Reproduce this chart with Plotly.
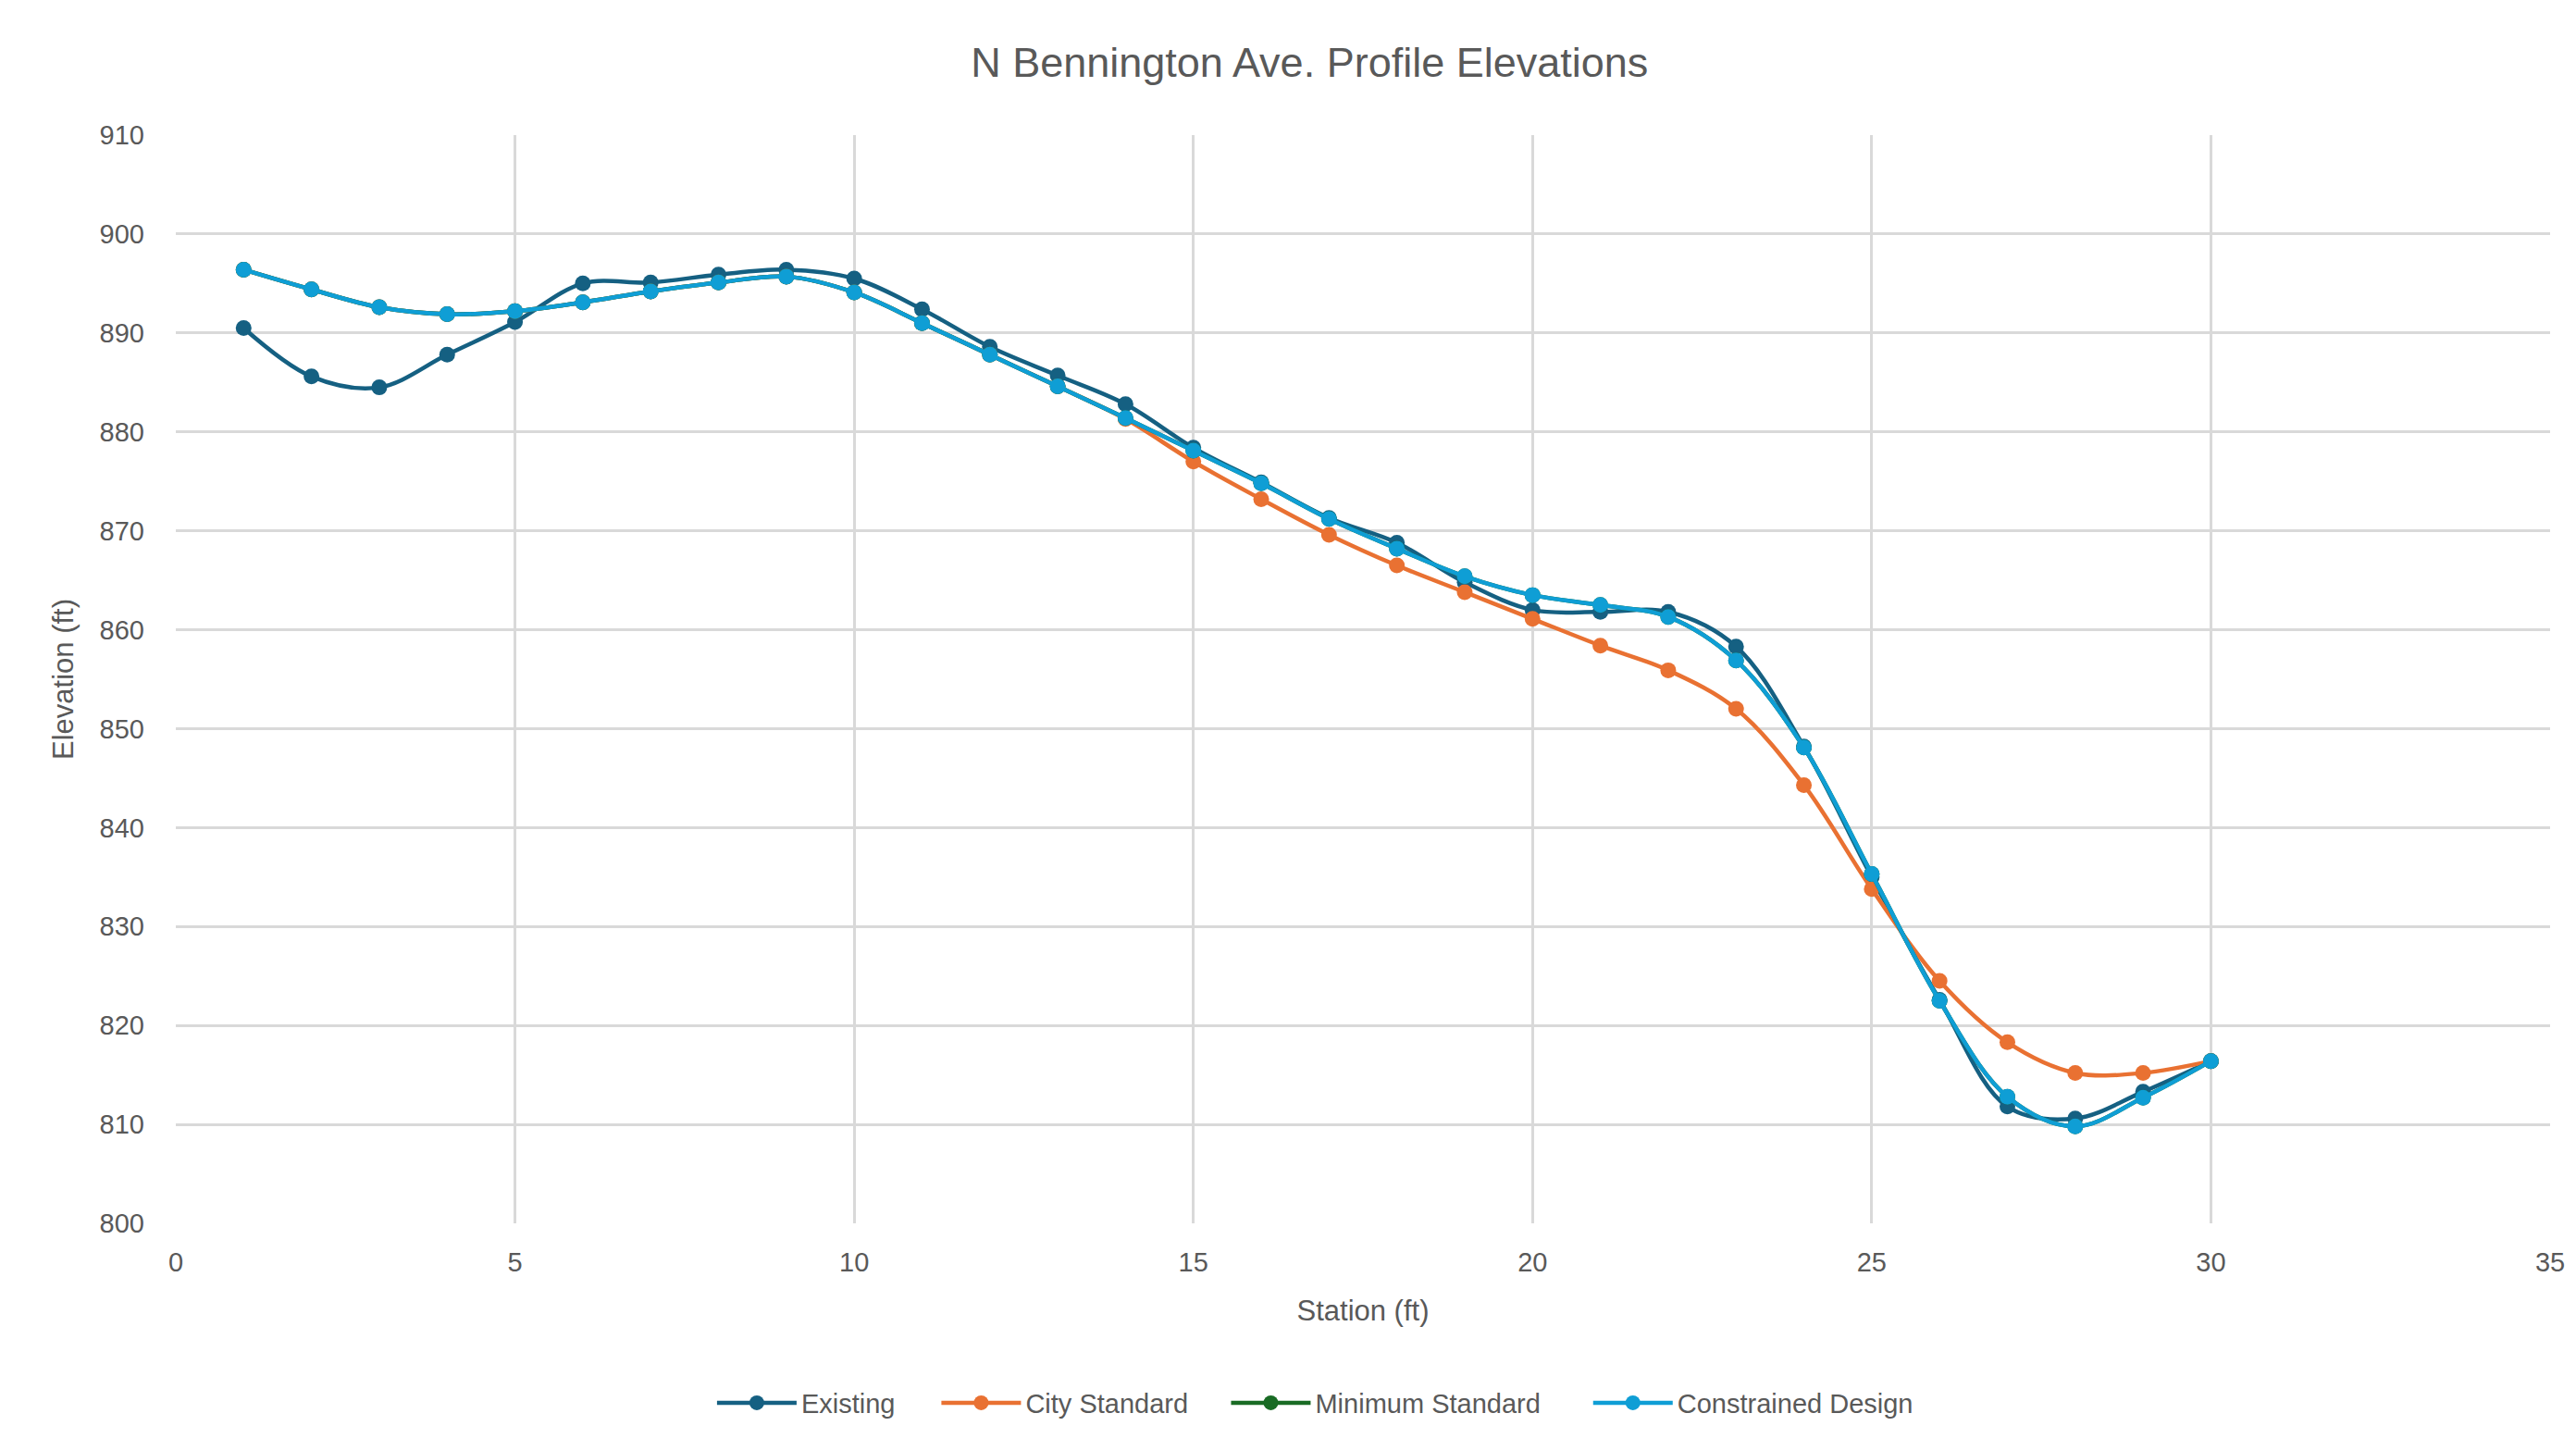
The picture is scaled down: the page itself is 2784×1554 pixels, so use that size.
import plotly.graph_objects as go

stations = list(range(1, 31))

existing = [890.5, 885.6, 884.5, 887.8, 891.1, 895.0, 895.1, 895.9, 896.4, 895.5,
            892.4, 888.6, 885.7, 882.8, 878.4, 874.9, 871.3, 868.8, 864.8, 862.0,
            861.8, 861.8, 858.3, 848.2, 835.0, 822.6, 811.8, 810.6, 813.3, 816.4]

city_standard = [896.4, 894.4, 892.6, 891.9, 892.2, 893.1, 894.2, 895.1, 895.7, 894.1,
                 891.0, 887.8, 884.6, 881.3, 877.0, 873.2, 869.6, 866.5, 863.8, 861.1,
                 858.4, 855.9, 852.0, 844.3, 833.8, 824.5, 818.3, 815.2, 815.2, 816.4]

minimum_standard = [896.4, 894.4, 892.6, 891.9, 892.2, 893.1, 894.2, 895.1, 895.7, 894.1,
                    891.0, 887.8, 884.6, 881.4, 878.1, 874.8, 871.2, 868.2, 865.4, 863.5,
                    862.5, 861.3, 856.9, 848.1, 835.3, 822.5, 812.8, 809.8, 812.7, 816.4]

constrained_design = [896.4, 894.4, 892.6, 891.9, 892.2, 893.1, 894.2, 895.1, 895.7, 894.1,
                      891.0, 887.8, 884.6, 881.4, 878.1, 874.8, 871.2, 868.2, 865.4, 863.5,
                      862.5, 861.3, 856.9, 848.1, 835.3, 822.5, 812.8, 809.8, 812.7, 816.4]

series_names = ["Existing", "City Standard", "Minimum Standard", "Constrained Design"]
series_values = [existing, city_standard, minimum_standard, constrained_design]
series_colors = ["#156082", "#E97132", "#196B24", "#0F9ED5"]
legend_ids = ["legend", "legend2", "legend3", "legend4"]
legend_x = [0.226, 0.3205, 0.4425, 0.595]

x_ticks = [0, 5, 10, 15, 20, 25, 30, 35]
y_ticks = [800, 810, 820, 830, 840, 850, 860, 870, 880, 890, 900, 910]

FONT = "Liberation Sans, Arial, sans-serif"
TXT = "#595959"
GRID = "#D9D9D9"

fig = go.Figure()
for name, vals, col, lg in zip(series_names, series_values, series_colors, legend_ids):
    fig.add_trace(go.Scatter(
        x=stations, y=vals, name=name, mode="lines+markers", legend=lg,
        line=dict(color=col, width=4.5, shape="spline", smoothing=1),
        marker=dict(color=col, size=17, symbol="circle"),
    ))

legend_common = dict(orientation="h", xanchor="left", y=-0.165, yanchor="middle",
                     font=dict(size=29, color=TXT), itemwidth=86,
                     bgcolor="rgba(0,0,0,0)")

fig.update_layout(
    width=2776, height=1546,
    paper_bgcolor="white", plot_bgcolor="white",
    margin=dict(l=182, r=18, t=138, b=231),
    font=dict(family=FONT, color=TXT, size=29),
    title=dict(text="N Bennington Ave. Profile Elevations",
               font=dict(family=FONT, color=TXT, size=45),
               x=0.4775, xref="paper", xanchor="center",
               y=1 - 59 / 1546, yref="container", yanchor="middle"),
    xaxis=dict(range=[0, 35], tickvals=x_ticks, showgrid=True, gridcolor=GRID, gridwidth=3,
               zeroline=False, showline=False, ticks="",
               tickfont=dict(size=29, color=TXT), ticklabelstandoff=22,
               title=dict(text="Station (ft)", font=dict(size=31, color=TXT), standoff=26)),
    yaxis=dict(range=[800, 910], tickvals=y_ticks, showgrid=True, gridcolor=GRID, gridwidth=3,
               zeroline=False, showline=False, ticks="",
               tickfont=dict(size=29, color=TXT), ticklabelstandoff=33,
               title=dict(text="Elevation (ft)", font=dict(size=31, color=TXT), standoff=18)),
    legend=dict(x=legend_x[0], **legend_common),
    legend2=dict(x=legend_x[1], **legend_common),
    legend3=dict(x=legend_x[2], **legend_common),
    legend4=dict(x=legend_x[3], **legend_common),
    showlegend=True,
)

fig.write_html("out.html")
